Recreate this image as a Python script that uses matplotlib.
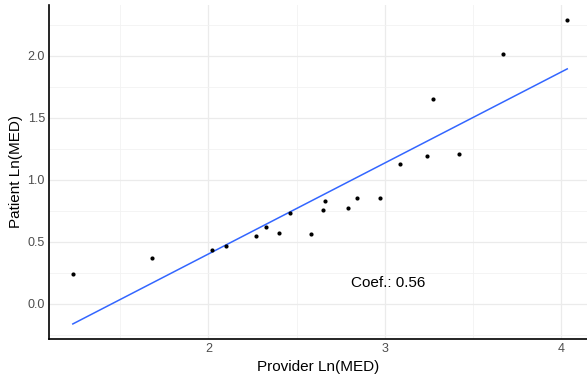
import numpy as np
import matplotlib
matplotlib.use("Agg")
import matplotlib.pyplot as plt

plt.rcParams["font.family"] = ["Liberation Sans", "DejaVu Sans"]

# log morphine-equivalent dose, provider vs patient report
provider_ln = [1.232, 1.680, 2.019, 2.100, 2.270, 2.329, 2.400, 2.465, 2.580, 2.652,
               2.661, 2.790, 2.841, 2.973, 3.087, 3.237, 3.420, 3.272, 3.669, 4.034]
patient_ln = [0.244, 0.373, 0.433, 0.470, 0.551, 0.623, 0.575, 0.734, 0.562, 0.758,
              0.831, 0.774, 0.852, 0.855, 1.127, 1.194, 1.207, 1.651, 2.014, 2.290]
coef_label = "Coef.: 0.56"

x = np.array(provider_ln)
y = np.array(patient_ln)
slope, icpt = np.polyfit(x, y, 1)
xs = np.array([x.min(), x.max()])

fig = plt.figure(figsize=(5.87, 3.77), dpi=100)
ax = fig.add_axes([49 / 587, 37.7 / 377, 538 / 587, 334.8 / 377])

ax.scatter(x, y, s=9, color="black", zorder=3, linewidths=0)
ax.plot(xs, slope * xs + icpt, color="#3366FF", lw=1.1, zorder=2)
ax.text(3.02, 0.168, coef_label, fontsize=11, ha="center", va="center", color="black")

ax.set_xlim(1.097, 4.146)
ax.set_ylim(-0.285, 2.415)
ax.set_xticks([2, 3, 4])
ax.set_xticklabels(["2", "3", "4"])
ax.set_yticks([0.0, 0.5, 1.0, 1.5, 2.0])
ax.set_yticklabels(["0.0", "0.5", "1.0", "1.5", "2.0"])
ax.set_xticks([1.5, 2.5, 3.5], minor=True)
ax.set_yticks([-0.25, 0.25, 0.75, 1.25, 1.75, 2.25], minor=True)

ax.grid(which="major", color="#EBEBEB", lw=0.9)
ax.grid(which="minor", color="#F2F2F2", lw=0.6)
ax.set_axisbelow(True)
ax.tick_params(which="both", length=0, labelsize=9, labelcolor="#4D4D4D", pad=3)

for side in ["top", "right"]:
    ax.spines[side].set_visible(False)
for side in ["left", "bottom"]:
    ax.spines[side].set_color("black")
    ax.spines[side].set_linewidth(1.2)

ax.set_xlabel("Provider Ln(MED)", fontsize=11, labelpad=3)
ax.set_ylabel("Patient Ln(MED)", fontsize=11, labelpad=3)

fig.savefig("out.png", dpi=100, facecolor="white")
